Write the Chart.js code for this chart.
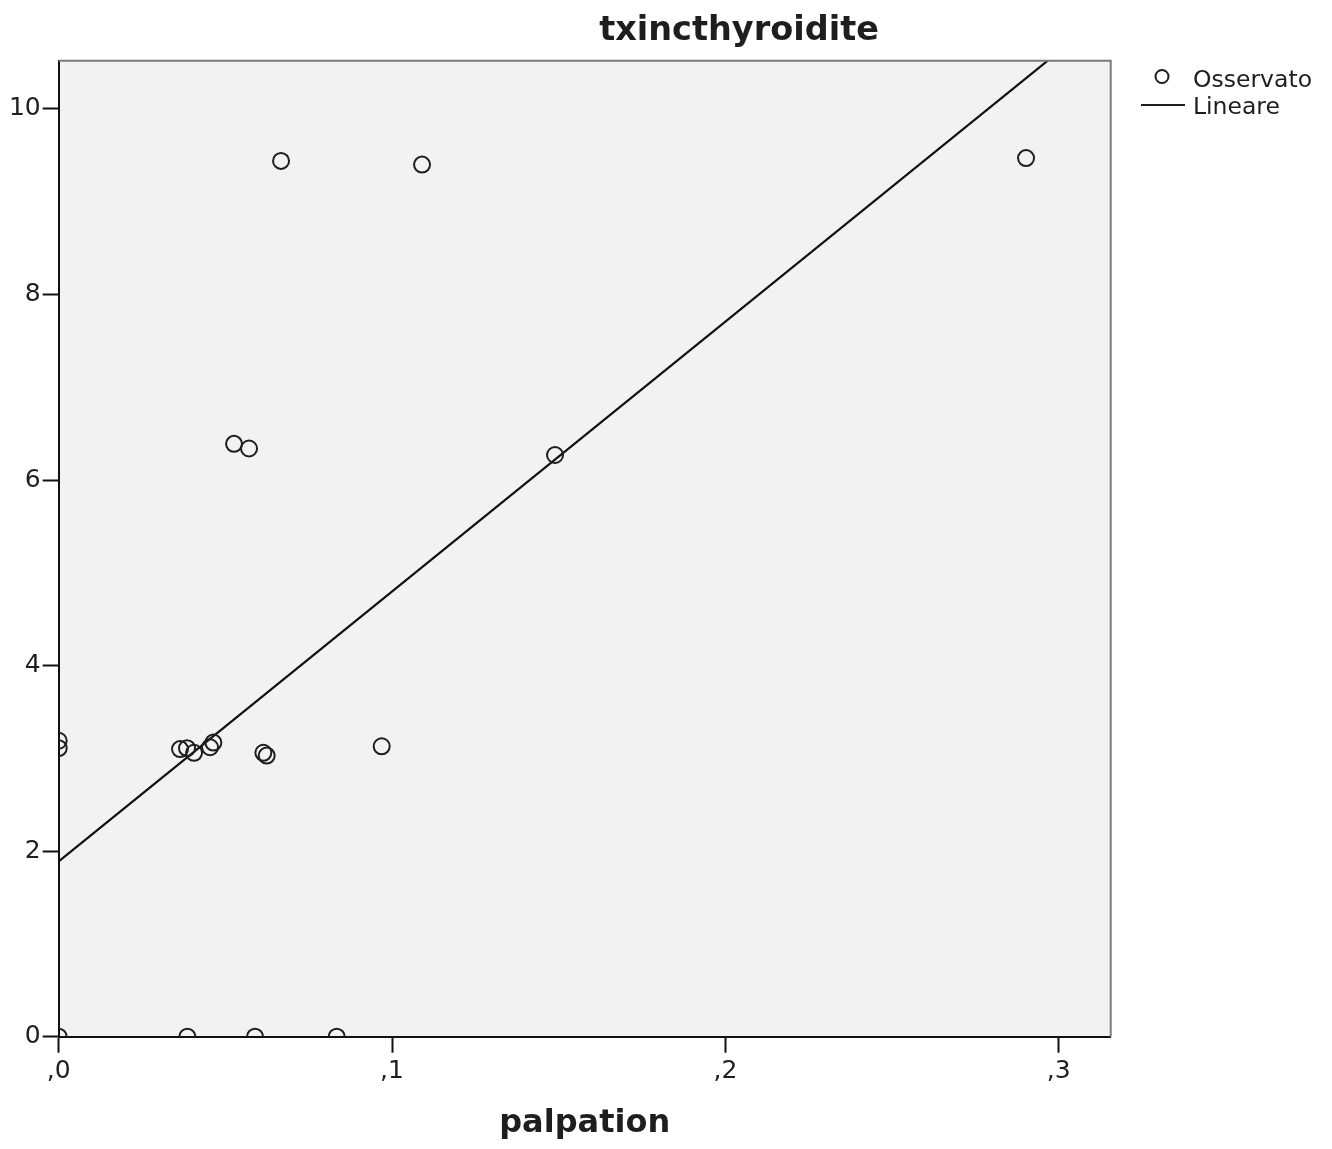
<!DOCTYPE html>
<html>
<head>
<meta charset="utf-8">
<script src="https://cdn.jsdelivr.net/npm/chart.js@4"></script>
<style>
  body { margin: 0; background: #fff; }
  canvas { display: block; }
</style>
</head>
<body>
<canvas id="chart" width="1332" height="1149"></canvas>
<script>
// --- Data ---
const obsX = [0.0667, 0.109, 0.2902, 0.0526, 0.0571, 0.1489, 0, 0, 0.0364, 0.0385, 0.0406, 0.0454, 0.0464, 0.0614, 0.0624, 0.0969, 0, 0.0386, 0.0589, 0.0834];
const obsY = [9.44, 9.40, 9.47, 6.39, 6.34, 6.27, 3.19, 3.11, 3.10, 3.11, 3.06, 3.12, 3.17, 3.06, 3.03, 3.13, 0, 0, 0, 0];

// linear fit (Lineare), endpoints at the x-range limits
const fitX = [0, 0.3156];
const fitY = [1.89, 11.07];

const xTicks = [0, 0.1, 0.2, 0.3];
const yTicks = [0, 2, 4, 6, 8, 10];

const chartTitle = 'txincthyroidite';
const xTitle = 'palpation';
const legendLabels = ['Osservato', 'Lineare'];

const FONT = "'DejaVu Sans', sans-serif";
const INK = '#1e1e1e';

// --- Plot background, clipping, frame, title and legend ---
const decorations = {
    id: 'decorations',
    beforeDraw(chart) {
        const { ctx, chartArea: a } = chart;
        ctx.save();
        ctx.fillStyle = '#f2f2f2';
        ctx.fillRect(a.left, a.top, a.right - a.left, a.bottom - a.top);
        ctx.restore();
    },
    beforeDatasetsDraw(chart) {
        // markers on the axes are cut by the plot edge, as in the original
        const { ctx, chartArea: a } = chart;
        ctx.save();
        ctx.beginPath();
        ctx.rect(a.left, a.top, a.right - a.left, a.bottom - a.top);
        ctx.clip();
    },
    afterDatasetsDraw(chart) {
        chart.ctx.restore();
    },
    afterDraw(chart) {
        const { ctx, chartArea: a } = chart;
        ctx.save();

        // grey frame top/right
        ctx.strokeStyle = '#7a7a7a';
        ctx.lineWidth = 2;
        ctx.beginPath();
        ctx.moveTo(a.left, a.top);
        ctx.lineTo(a.right, a.top);
        ctx.lineTo(a.right, a.bottom);
        ctx.stroke();

        // title
        ctx.fillStyle = INK;
        ctx.font = 'bold 33.5px ' + FONT;
        ctx.textAlign = 'center';
        ctx.textBaseline = 'alphabetic';
        ctx.fillText(chartTitle, 739, 40);

        // legend
        ctx.font = '23.5px ' + FONT;
        ctx.textAlign = 'left';
        ctx.strokeStyle = INK;
        ctx.lineWidth = 2;
        ctx.beginPath();
        ctx.arc(1162, 76.5, 6.5, 0, Math.PI * 2);
        ctx.stroke();
        ctx.fillText(legendLabels[0], 1193, 87);

        ctx.lineWidth = 2.2;
        ctx.beginPath();
        ctx.moveTo(1141, 105);
        ctx.lineTo(1185, 105);
        ctx.stroke();
        ctx.fillText(legendLabels[1], 1193, 114);

        ctx.restore();
    },
};

const ctx = document.getElementById('chart').getContext('2d');
const chart = new Chart(ctx, {
    type: 'scatter',
    data: {
        datasets: [
            {
                label: legendLabels[0],
                data: obsX.map((x, i) => ({ x, y: obsY[i] })),
                clip: 0,
                pointRadius: 8,
                pointHoverRadius: 8,
                pointBorderWidth: 2,
                borderColor: INK,
                backgroundColor: 'rgba(0,0,0,0)',
            },
            {
                label: legendLabels[1],
                data: fitX.map((x, i) => ({ x, y: fitY[i] })),
                clip: 0,
                showLine: true,
                pointRadius: 0,
                borderColor: '#111',
                borderWidth: 2.2,
            },
        ],
    },
    options: {
        responsive: false,
        animation: false,
        layout: { padding: { top: 60.7, right: 221.3, left: 0, bottom: 0 } },
        scales: {
            x: {
                type: 'linear',
                min: 0,
                max: 0.3156,
                afterBuildTicks: (s) => { s.ticks = xTicks.map((v) => ({ value: v })); },
                afterFit: (s) => { s.height = 112.3; },
                ticks: {
                    color: INK,
                    font: { family: FONT, size: 25 },
                    padding: 4,
                    maxRotation: 0,
                    callback: (v) => ',' + Math.round(v * 10),
                },
                grid: {
                    drawOnChartArea: false,
                    drawTicks: true,
                    tickLength: 16,
                    tickWidth: 2,
                    tickColor: '#111',
                },
                border: { color: '#111', width: 2 },
                title: {
                    display: true,
                    text: xTitle,
                    color: INK,
                    font: { family: FONT, size: 32, weight: 'bold' },
                    padding: { top: 0, bottom: 6 },
                },
            },
            y: {
                type: 'linear',
                min: 0,
                max: 10.52,
                afterBuildTicks: (s) => { s.ticks = yTicks.map((v) => ({ value: v })); },
                afterFit: (s) => { s.width = 58.7; },
                ticks: {
                    color: INK,
                    font: { family: FONT, size: 25 },
                    padding: 2,
                },
                grid: {
                    drawOnChartArea: false,
                    drawTicks: true,
                    tickLength: 16,
                    tickWidth: 2,
                    tickColor: '#111',
                },
                border: { color: '#111', width: 2 },
            },
        },
        plugins: {
            legend: { display: false },
            tooltip: { enabled: false },
        },
    },
    plugins: [decorations],
});
</script>
</body>
</html>
